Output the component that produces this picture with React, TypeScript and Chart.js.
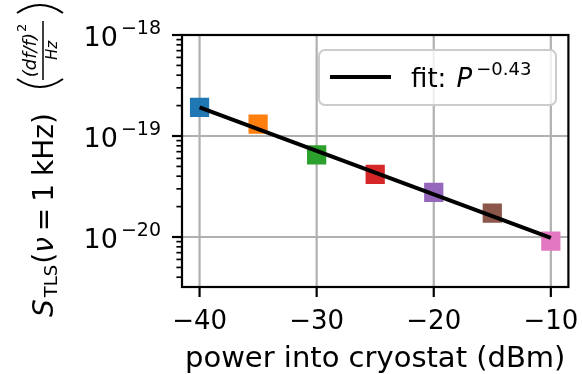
import React, { useEffect, useRef } from 'react';
import { Chart, registerables } from 'chart.js';

Chart.register(...registerables);

// Measured TLS noise level at 1 kHz versus drive power
const power = [-40, -35, -30, -25, -20, -15, -10];
const noise = [1.92e-19, 1.31e-19, 6.5e-20, 4.18e-20, 2.77e-20, 1.72e-20, 9.1e-21];
const markerColors = ['#1f77b4', '#ff7f0e', '#2ca02c', '#d62728', '#9467bd', '#8c564b', '#e377c2'];

// Power-law fit, endpoints of the fitted line
const fitPower = [-40, -10];
const fitNoise = [1.92e-19, 9.8e-21];
const fitExponent = '−0.43';

// Axis ticks
const xTicks = [-40, -30, -20, -10];
const yDecades = [-20, -19, -18];
const xRange = [-41.5, -8.5];
const yRange = [3.2e-21, 1e-18];
const xLabel = 'power into cryostat (dBm)';

const FONT = '"DejaVu Sans"';
const GRID = '#b0b0b0';
const INK = '#000';

const axesPlugin = {
  id: 'mplAxes',
  beforeDatasetsDraw(chart: any) {
    const { ctx, chartArea: a, scales } = chart;
    const x = scales.x;
    const y = scales.y;
    ctx.save();
    ctx.strokeStyle = GRID;
    ctx.lineWidth = 2.2;
    for (const t of xTicks) {
      const px = x.getPixelForValue(t);
      ctx.beginPath();
      ctx.moveTo(px, a.top);
      ctx.lineTo(px, a.bottom);
      ctx.stroke();
    }
    for (const d of yDecades) {
      const py = y.getPixelForValue(Math.pow(10, d));
      ctx.beginPath();
      ctx.moveTo(a.left, py);
      ctx.lineTo(a.right, py);
      ctx.stroke();
    }
    ctx.restore();
  },
  afterDatasetsDraw(chart: any) {
    const { ctx, chartArea: a, scales } = chart;
    const x = scales.x;
    const y = scales.y;
    ctx.save();

    // spines
    ctx.strokeStyle = INK;
    ctx.lineWidth = 2.2;
    ctx.strokeRect(a.left, a.top, a.right - a.left, a.bottom - a.top);

    // x ticks + labels
    ctx.fillStyle = INK;
    ctx.font = `26px ${FONT}`;
    ctx.textAlign = 'center';
    ctx.textBaseline = 'alphabetic';
    for (const t of xTicks) {
      const px = x.getPixelForValue(t);
      ctx.beginPath();
      ctx.moveTo(px, a.bottom);
      ctx.lineTo(px, a.bottom + 10);
      ctx.stroke();
      const label = t < 0 ? '−' + Math.abs(t) : String(t);
      ctx.fillText(label, px, a.bottom + 42);
    }

    // x axis title
    ctx.font = `29px ${FONT}`;
    ctx.fillText(xLabel, (a.left + a.right) / 2, a.bottom + 80);

    // y minor ticks
    ctx.lineWidth = 1.7;
    for (let d = yDecades[0] - 1; d <= yDecades[yDecades.length - 1]; d++) {
      for (let m = 2; m <= 9; m++) {
        const v = m * Math.pow(10, d);
        if (v < yRange[0] || v > yRange[1]) continue;
        const py = y.getPixelForValue(v);
        ctx.beginPath();
        ctx.moveTo(a.left, py);
        ctx.lineTo(a.left - 5.6, py);
        ctx.stroke();
      }
    }
    // y major ticks + labels
    ctx.lineWidth = 2.2;
    ctx.textAlign = 'left';
    for (const d of yDecades) {
      const py = y.getPixelForValue(Math.pow(10, d));
      ctx.beginPath();
      ctx.moveTo(a.left, py);
      ctx.lineTo(a.left - 10, py);
      ctx.stroke();
      const sup = '−' + Math.abs(d);
      ctx.font = `19px ${FONT}`;
      const supW = ctx.measureText(sup).width;
      ctx.font = `27px ${FONT}`;
      const baseW = ctx.measureText('10').width;
      const right = a.left - 21;
      const x0 = right - supW - baseW - 3;
      ctx.fillText('10', x0, py + 11);
      ctx.font = `19px ${FONT}`;
      ctx.fillText(sup, x0 + baseW + 3, py - 1);
    }

    // legend
    const lx = 319, ly = 50, lw = 237, lh = 55;
    ctx.beginPath();
    ctx.roundRect(lx, ly, lw, lh, 6);
    ctx.fillStyle = 'rgba(255,255,255,0.8)';
    ctx.fill();
    ctx.strokeStyle = '#cccccc';
    ctx.lineWidth = 2;
    ctx.stroke();
    ctx.strokeStyle = INK;
    ctx.lineWidth = 4;
    ctx.beginPath();
    ctx.moveTo(lx + 11, ly + 27);
    ctx.lineTo(lx + 72, ly + 27);
    ctx.stroke();
    ctx.fillStyle = INK;
    ctx.font = `26px ${FONT}`;
    const tx = lx + 92;
    const tb = ly + 37;
    ctx.fillText('fit: ', tx, tb);
    const fw = ctx.measureText('fit: ').width;
    ctx.font = `italic 26px ${FONT}`;
    ctx.fillText('P', tx + fw + 2, tb);
    const pw = ctx.measureText('P').width;
    ctx.font = `18px ${FONT}`;
    ctx.fillText(fitExponent, tx + fw + pw + 6, tb - 12);

    // y axis title (rotated)
    ctx.translate(53, 317);
    ctx.rotate(-Math.PI / 2);
    let cx = 0;
    const piece = (txt: string, font: string, dy = 0, gap = 0) => {
      ctx.font = font;
      ctx.fillText(txt, cx, dy);
      cx += ctx.measureText(txt).width + gap;
    };
    piece('S', `italic 28px ${FONT}`, 0, 2);
    piece('TLS', `18px ${FONT}`, 4, 1);
    piece('(', `28px ${FONT}`);
    piece('ν', `italic 28px ${FONT}`, 0, 6);
    piece('=', `28px ${FONT}`, 0, 6);
    piece('1', `28px ${FONT}`, 0, 8);
    piece('kHz', `28px ${FONT}`);
    piece(')', `28px ${FONT}`);

    // big parentheses around the unit fraction
    ctx.strokeStyle = INK;
    ctx.lineWidth = 2;
    const pL = 228, pR = 314, top = -36, bot = 10;
    ctx.beginPath();
    ctx.moveTo(pL + 10, top);
    ctx.quadraticCurveTo(pL - 6, (top + bot) / 2, pL + 10, bot);
    ctx.stroke();
    ctx.beginPath();
    ctx.moveTo(pR - 10, top);
    ctx.quadraticCurveTo(pR + 6, (top + bot) / 2, pR - 10, bot);
    ctx.stroke();

    // unit fraction (df/f)^2 / Hz
    ctx.font = `italic 18px ${FONT}`;
    const num = '(df/f)';
    const nw = ctx.measureText(num).width;
    ctx.font = `13px ${FONT}`;
    const sw = ctx.measureText('2').width;
    const fracL = 237, fracR = 296;
    const fc = (fracL + fracR) / 2;
    const n0 = fc - (nw + sw + 1) / 2;
    ctx.font = `italic 18px ${FONT}`;
    ctx.fillText(num, n0, -17);
    ctx.font = `13px ${FONT}`;
    ctx.fillText('2', n0 + nw + 1, -27);
    ctx.lineWidth = 1.5;
    ctx.beginPath();
    ctx.moveTo(fracL, -10);
    ctx.lineTo(fracR, -10);
    ctx.stroke();
    ctx.font = `italic 15px ${FONT}`;
    ctx.textAlign = 'center';
    ctx.fillText('Hz', fc, 4);

    ctx.restore();
  },
};

export default function App() {
  const ref = useRef<HTMLCanvasElement | null>(null);

  useEffect(() => {
    if (!ref.current) return;
    const chart = new Chart(ref.current, {
      type: 'scatter',
      data: {
        datasets: [
          {
            type: 'line',
            label: 'fit',
            data: fitPower.map((p, i) => ({ x: p, y: fitNoise[i] })),
            borderColor: INK,
            borderWidth: 4,
            pointRadius: 0,
            fill: false,
            order: 0,
          },
          {
            label: 'data',
            data: power.map((p, i) => ({ x: p, y: noise[i] })),
            backgroundColor: markerColors,
            borderWidth: 0,
            pointStyle: 'rect',
            pointRadius: 13.6,
            order: 1,
          },
        ],
      },
      options: {
        responsive: false,
        animation: false,
        events: [],
        layout: { padding: { left: 182, right: 13, top: 35, bottom: 87 } },
        plugins: { legend: { display: false }, tooltip: { enabled: false } },
        scales: {
          x: { type: 'linear', min: xRange[0], max: xRange[1], display: false },
          y: { type: 'logarithmic', min: yRange[0], max: yRange[1], display: false },
        },
      },
      plugins: [axesPlugin],
    });
    return () => chart.destroy();
  }, []);

  return (
    <div style={{ position: 'fixed', left: 0, top: 0, width: 582, height: 374, background: '#fff' }}>
      <canvas ref={ref} width={582} height={374} />
    </div>
  );
}
